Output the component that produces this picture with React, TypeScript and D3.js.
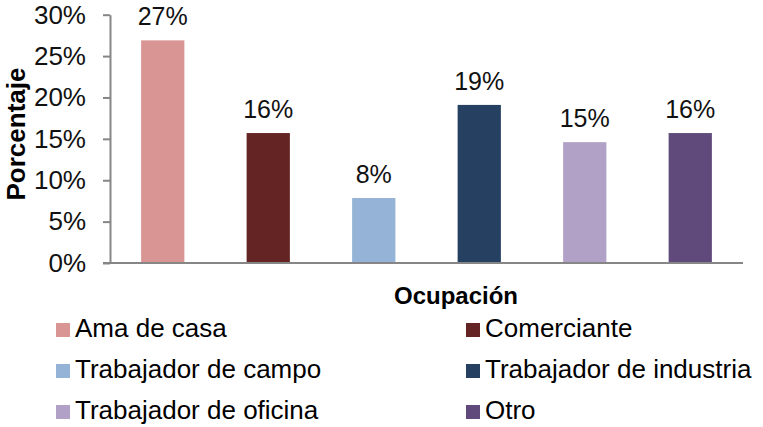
import React, { useEffect, useRef } from "react";
import * as d3 from "d3";

// 직업별 비율 데이터
const categories = [
  "Ama de casa",
  "Comerciante",
  "Trabajador de campo",
  "Trabajador de industria",
  "Trabajador de oficina",
  "Otro",
];
const percentages = [26.9, 15.7, 7.85, 19.1, 14.6, 15.7];
const barColors = ["#D99594", "#632423", "#95B3D7", "#254061", "#B2A1C7", "#604A7B"];
const yTicks = [0, 5, 10, 15, 20, 25, 30];

const WIDTH = 763;
const HEIGHT = 427;
const FONT = "'Liberation Sans', Arial, sans-serif";

const App: React.FC = () => {
  const svgRef = useRef<SVGSVGElement>(null);

  useEffect(() => {
    if (!svgRef.current) return;
    const svg = d3.select(svgRef.current);
    svg.selectAll("*").remove();

    // 플롯 영역
    const plot = { left: 110, right: 743, top: 14.7, bottom: 263 };

    const xScale = d3
      .scaleBand<string>()
      .domain(categories)
      .range([plot.left, plot.right])
      .paddingInner(0.59)
      .paddingOuter(0.295);

    const yScale = d3.scaleLinear().domain([0, 30]).range([plot.bottom, plot.top]);

    // 막대
    svg
      .append("g")
      .selectAll("rect")
      .data(categories)
      .enter()
      .append("rect")
      .attr("x", (d) => xScale(d) as number)
      .attr("y", (_, i) => yScale(percentages[i]))
      .attr("width", xScale.bandwidth())
      .attr("height", (_, i) => plot.bottom - yScale(percentages[i]))
      .attr("fill", (_, i) => barColors[i]);

    // 데이터 라벨
    svg
      .append("g")
      .selectAll("text")
      .data(categories)
      .enter()
      .append("text")
      .attr("x", (d) => (xScale(d) as number) + xScale.bandwidth() / 2)
      .attr("y", (_, i) => yScale(percentages[i]) - 15)
      .attr("text-anchor", "middle")
      .style("font-family", FONT)
      .style("font-size", "25px")
      .style("fill", "#111")
      .text((_, i) => `${Math.round(percentages[i])}%`);

    // Y축
    const yAxis = svg
      .append("g")
      .attr("transform", `translate(${plot.left},0)`)
      .call(
        d3
          .axisLeft(yScale)
          .tickValues(yTicks)
          .tickSize(7)
          .tickSizeOuter(0)
          .tickPadding(17)
          .tickFormat((d) => `${d}%`)
      );
    yAxis.select(".domain").attr("stroke", "#868686").attr("stroke-width", 2);
    yAxis.selectAll(".tick line").attr("stroke", "#868686").attr("stroke-width", 2);
    yAxis
      .selectAll(".tick text")
      .style("font-family", FONT)
      .style("font-size", "26px")
      .style("fill", "#111");

    // X축 기준선
    svg
      .append("line")
      .attr("x1", plot.left - 7)
      .attr("x2", plot.right)
      .attr("y1", plot.bottom)
      .attr("y2", plot.bottom)
      .attr("stroke", "#868686")
      .attr("stroke-width", 2);

    // 축 제목
    svg
      .append("text")
      .attr("transform", `translate(25, 134) rotate(-90)`)
      .attr("text-anchor", "middle")
      .style("font-family", FONT)
      .style("font-size", "26px")
      .style("font-weight", "bold")
      .style("fill", "#000")
      .text("Porcentaje");

    svg
      .append("text")
      .attr("x", 456)
      .attr("y", 304)
      .attr("text-anchor", "middle")
      .style("font-family", FONT)
      .style("font-size", "24px")
      .style("font-weight", "bold")
      .style("fill", "#000")
      .text("Ocupación");

    // 범례
    const legend = svg.append("g");
    categories.forEach((c, i) => {
      const col = i % 2;
      const row = Math.floor(i / 2);
      const x = col === 0 ? 56 : 466;
      const baseline = 337 + row * 41;
      legend
        .append("rect")
        .attr("x", x)
        .attr("y", baseline - 14)
        .attr("width", 14)
        .attr("height", 14)
        .attr("fill", barColors[i]);
      legend
        .append("text")
        .attr("x", x + 19)
        .attr("y", baseline)
        .style("font-family", FONT)
        .style("font-size", "26px")
        .style("fill", "#000")
        .text(c);
    });
  }, []);

  return (
    <div>
      <style>{"body{margin:0}"}</style>
      <svg ref={svgRef} width={WIDTH} height={HEIGHT} style={{ display: "block", background: "#fff" }} />
    </div>
  );
};

export default App;
